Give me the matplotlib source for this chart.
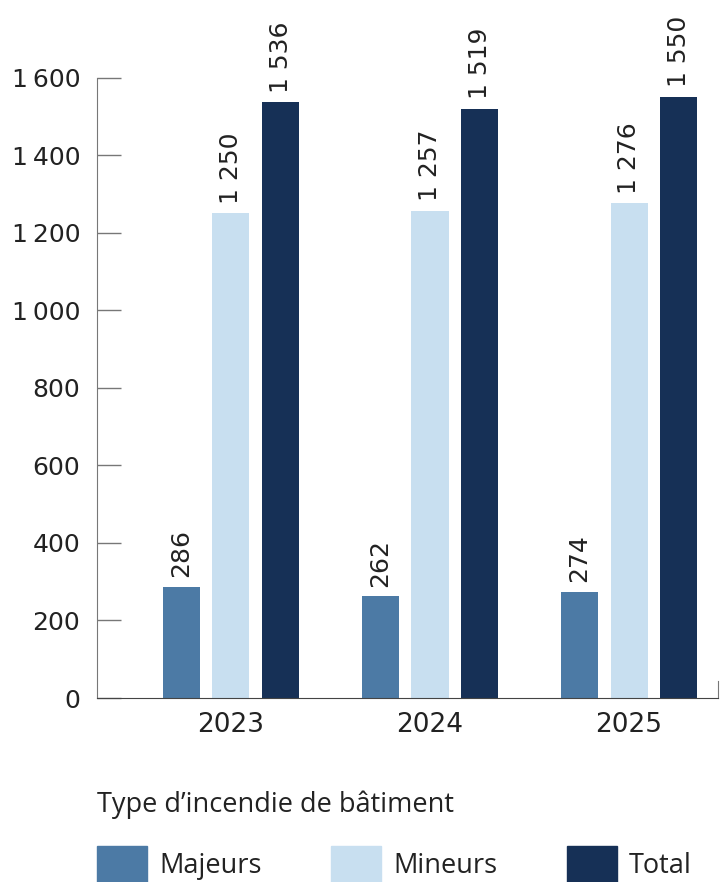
import matplotlib.pyplot as plt
from matplotlib.patches import Rectangle
import numpy as np

years = ['2023', '2024', '2025']
series = ['Majeurs', 'Mineurs', 'Total']
majeurs = [286, 262, 274]
mineurs = [1250, 1257, 1276]
total = [1536, 1519, 1550]
colors = ['#4c7aa5', '#c8dff0', '#163056']
yticks = [0, 200, 400, 600, 800, 1000, 1200, 1400, 1600]
legend_title = 'Type d\u2019incendie de bâtiment'

axis_font = ['Liberation Sans Narrow', 'DejaVu Sans']
plain = ['Open Sans', 'DejaVu Sans']
txt = '#222222'


def fmt(v):
    return f'{v:,}'.replace(',', ' ')


fig = plt.figure(figsize=(7.26, 8.82), dpi=100)
ax = fig.add_axes([0.1336, 0.2086, 0.8554, 0.7914])

x = np.arange(len(years))
width = 0.186
step = 0.249
for i, (name, vals) in enumerate(zip(series, [majeurs, mineurs, total])):
    pos = x + (i - 1) * step
    ax.bar(pos, vals, width, color=colors[i], label=name)
    for p, v in zip(pos, vals):
        ax.text(p, v + 25, fmt(v), rotation=90, ha='center', va='bottom',
                fontsize=18, color=txt, family='DejaVu Sans')

ax.set_xlim(-0.673, 2.447)
ax.set_ylim(0, 1800)
ax.set_yticks(yticks)
ax.set_yticklabels([fmt(t).replace(' ', '\u2009') for t in yticks],
                   family=axis_font, fontsize=18, color=txt)
ax.set_xticks(x)
ax.set_xticklabels(years, family=axis_font, fontsize=19, color=txt)

ax.spines['top'].set_visible(False)
ax.spines['left'].set_bounds(0, 1600)
ax.spines['right'].set_bounds(0, 45)
for s in ['left', 'right']:
    ax.spines[s].set_color('#777777')
ax.spines['bottom'].set_color('#444444')
ax.tick_params(axis='y', direction='in', length=17, width=1, color='#777777', pad=12)
ax.tick_params(axis='x', length=0, pad=10)

# legend drawn by hand below the plot
fig.text(97 / 726, 1 - 812 / 882, legend_title, family=plain, fontsize=19.5,
         color=txt, va='baseline', ha='left')
leg_x = [97, 331, 567]
for lx, name, c in zip(leg_x, series, colors):
    fig.patches.append(Rectangle((lx / 726, 0), 50 / 726, 36 / 882,
                                 transform=fig.transFigure, color=c))
    fig.text((lx + 62) / 726, 1 - 873 / 882, name, family=plain, fontsize=19.5,
             color=txt, va='baseline', ha='left')

fig.savefig('out.png', dpi=100)
